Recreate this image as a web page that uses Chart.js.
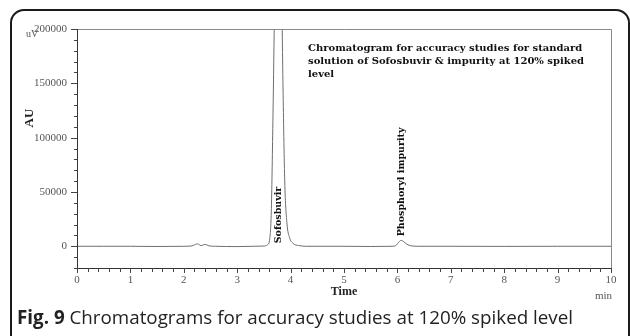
<!DOCTYPE html>
<html>
<head>
<meta charset="utf-8">
<script src="https://cdn.jsdelivr.net/npm/chart.js@4.4.0/dist/chart.umd.min.js"></script>
<style>
  html, body { margin: 0; padding: 0; background: #fff; overflow: hidden; }
  #wrap { position: relative; width: 630px; height: 336px; overflow: hidden; }
  #frame { position: absolute; left: 10px; top: 9px; width: 616px; height: 340px;
           border: 2px solid #1a1a1a; border-radius: 14px; }
  #chart { position: absolute; left: 0; top: 0; }
  #caption { position: absolute; left: 17px; top: 304px; font-family: "Open Sans", sans-serif;
             font-size: 18.8px; color: #222; white-space: nowrap; }
  #caption b { font-weight: 700; }
</style>
</head>
<body>
<div id="wrap">
  <div id="frame"></div>
  <canvas id="chart" width="630" height="336"></canvas>
  <div id="caption"><b>Fig. 9</b> Chromatograms for accuracy studies at 120% spiked level</div>
</div>
<script>
// chromatogram trace (time in min, signal in uV)
const timeMin = [0, 0.5, 1.0, 1.5, 2.0, 2.15, 2.22, 2.26, 2.32, 2.37, 2.41, 2.47, 2.6, 2.8, 3.0, 3.3, 3.5,
                 3.57, 3.61, 3.64, 3.67, 3.7, 3.76, 3.83, 3.86, 3.89, 3.93, 3.98, 4.05, 4.15, 4.3,
                 4.6, 5.0, 5.5, 5.9, 5.97, 6.02, 6.07, 6.12, 6.18, 6.26, 6.4, 7.0, 8.0, 9.0, 10.0];
const signalUV = [0, 0, 0, -200, 0, 300, 1800, 2200, 600, 1400, 1600, 400, 0, -200, -300, 0, 200,
                  1500, 7000, 35000, 120000, 220000, 350000, 240000, 140000, 60000, 22000, 8000, 2500, 700, 0,
                  0, 0, -200, 0, 600, 3500, 5400, 4200, 1800, 400, 0, 0, -100, 0, 0];

const peakNames = ['Sofosbuvir', 'Phosphoryl impurity'];
const peakTimes = [3.78, 6.07];

const titleLines = ['Chromatogram for accuracy studies for standard',
                    'solution of Sofosbuvir & impurity at 120% spiked',
                    'level'];
const yLabelSteps = 50000;

const serif = '"Liberation Serif", "Times New Roman", serif';
const slab = '"DejaVu Serif", serif';

const overlay = {
  id: 'overlay',
  afterDraw(chart) {
    const ctx = chart.ctx;
    const a = chart.chartArea;
    const xs = chart.scales.x, ys = chart.scales.y;
    ctx.save();
    // plot box
    ctx.lineWidth = 1;
    ctx.strokeStyle = '#8a8a8a';
    ctx.beginPath();
    ctx.moveTo(a.left, a.top + 0.5); ctx.lineTo(a.right + 0.5, a.top + 0.5); ctx.lineTo(a.right + 0.5, a.bottom);
    ctx.stroke();
    ctx.strokeStyle = '#333';
    ctx.beginPath();
    ctx.moveTo(a.left + 0.5, a.top); ctx.lineTo(a.left + 0.5, a.bottom + 0.5); ctx.lineTo(a.right + 0.5, a.bottom + 0.5);
    ctx.stroke();
    // ticks
    ctx.strokeStyle = '#444';
    ctx.beginPath();
    xs.ticks.forEach(t => {
      const px = Math.round(xs.getPixelForValue(t.value)) + 0.5;
      const major = Math.abs(t.value - Math.round(t.value)) < 1e-6;
      ctx.moveTo(px, a.bottom); ctx.lineTo(px, a.bottom + (major ? 5 : 4));
    });
    ys.ticks.forEach(t => {
      const py = Math.round(ys.getPixelForValue(t.value)) + 0.5;
      const major = t.value % yLabelSteps === 0;
      ctx.moveTo(a.left, py); ctx.lineTo(a.left - (major ? 6 : 3), py);
    });
    ctx.stroke();

    // axis texts
    ctx.fillStyle = '#222';
    ctx.font = 'bold 12px ' + serif;
    ctx.textAlign = 'center'; ctx.textBaseline = 'middle';
    ctx.fillText('Time', (a.left + a.right) / 2, 292);
    ctx.save();
    ctx.translate(30, 118); ctx.rotate(-Math.PI / 2);
    ctx.font = 'bold 13px ' + serif;
    ctx.fillText('AU', 0, 0);
    ctx.restore();
    ctx.fillStyle = '#555';
    ctx.font = '11px ' + serif;
    ctx.textAlign = 'right';
    ctx.fillText('min', 612, 296);
    ctx.font = '10px ' + serif;
    ctx.textAlign = 'left';
    ctx.fillText('uV', 26, 34);

    // title block
    ctx.fillStyle = '#111';
    ctx.font = 'bold 10px ' + slab;
    ctx.textAlign = 'left';
    titleLines.forEach((s, i) => ctx.fillText(s, 308, 48 + i * 13));

    // peak labels
    ctx.font = 'bold 9.5px ' + slab;
    peakNames.forEach((name, i) => {
      ctx.save();
      ctx.translate(xs.getPixelForValue(peakTimes[i]), ys.getPixelForValue(0) - 3);
      ctx.rotate(-Math.PI / 2);
      ctx.textAlign = 'left';
      ctx.fillText(name, i === 0 ? 0 : 7, 0);
      ctx.restore();
    });
    ctx.restore();
  }
};

const ctx = document.getElementById('chart').getContext('2d');
const chart = new Chart(ctx, {
  type: 'scatter',
  data: {
    datasets: [{
      data: timeMin.map((t, i) => ({ x: t, y: signalUV[i] })),
      showLine: true,
      borderColor: '#6e6e6e',
      borderWidth: 1,
      pointRadius: 0,
      cubicInterpolationMode: 'monotone'
    }]
  },
  options: {
    responsive: false,
    animation: false,
    layout: { padding: { left: 0, top: 29, right: 19, bottom: 0 } },
    plugins: { legend: { display: false }, tooltip: { enabled: false } },
    scales: {
      x: {
        type: 'linear', min: 0, max: 10,
        afterFit: s => { s.height = 68; },
        grid: { display: true, drawOnChartArea: false, drawTicks: false },
        border: { display: false },
        ticks: {
          stepSize: 0.2, autoSkip: false, maxRotation: 0, padding: 6,
          color: '#555', font: { family: serif, size: 11 },
          callback: v => Math.abs(v - Math.round(v)) < 1e-6 ? String(Math.round(v)) : ''
        }
      },
      y: {
        min: -20000, max: 200000,
        afterFit: s => { s.width = 77; },
        grid: { display: true, drawOnChartArea: false, drawTicks: false },
        border: { display: false },
        ticks: {
          stepSize: 10000, autoSkip: false, padding: 10,
          color: '#555', font: { family: serif, size: 11 },
          callback: v => v % yLabelSteps === 0 ? String(v) : ''
        }
      }
    }
  },
  plugins: [overlay]
});
</script>
</body>
</html>
